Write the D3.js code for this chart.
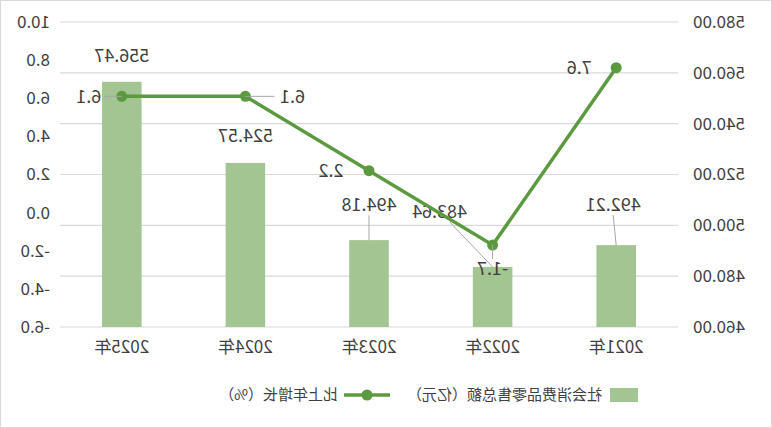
<!DOCTYPE html><html><head><meta charset="utf-8"><script src="https://cdn.jsdelivr.net/npm/d3@7"></script>
<style>body{margin:0;background:#fff}text{font-family:"Noto Sans CJK SC","DejaVu Sans",sans-serif;fill:#404040}</style></head><body>
<svg id="c" width="772" height="428"></svg>
<script>
const years=["2021年","2022年","2023年","2024年","2025年"];
const sales=[492.21,483.64,494.18,524.57,556.47];
const growth=[7.6,-1.7,2.2,6.1,6.1];
const salesTicks=[460,480,500,520,540,560,580];
const growthTicks=[-6,-4,-2,0,2,4,6,8,10];
const svg=d3.select("#c");
svg.append("rect").attr("x",0.5).attr("y",0.5).attr("width",771).attr("height",427).attr("fill","none").attr("stroke","#d9d9d9");
const g=svg.append("g").attr("transform","translate(772,0) scale(-1,1)");
const x=d3.scaleBand().domain(years).range([94,712]).paddingInner(0.68).paddingOuter(0.34);
const yS=d3.scaleLinear().domain([460,580]).range([327,22]);
const yG=d3.scaleLinear().domain([-6,10]).range([327,22]);
const hy=s=>s.replace("−","-");
g.selectAll(".grid").data(salesTicks).join("line").attr("x1",94).attr("x2",712).attr("y1",d=>yS(d)).attr("y2",d=>yS(d)).attr("stroke","#d9d9d9").attr("stroke-width",1.2);
const gl=g.append("g").attr("transform","translate(82,0)").call(d3.axisLeft(yS).tickValues(salesTicks).tickFormat(d3.format(".2f")).tickSize(0));
const gr=g.append("g").attr("transform","translate(722,0)").call(d3.axisRight(yG).tickValues(growthTicks).tickFormat(d=>hy(d3.format(".1f")(d))).tickSize(0).tickPadding(0));
const gx=g.append("g").attr("transform","translate(0,327)").call(d3.axisBottom(x).tickSize(0).tickPadding(14));
[gl,gr,gx].forEach(a=>{a.select(".domain").remove();a.selectAll("text").style("font-size","17px").style("fill","#404040");});
g.selectAll(".bar").data(sales).join("rect").attr("x",(d,i)=>x(years[i])).attr("width",x.bandwidth()).attr("y",d=>yS(d)).attr("height",d=>327-yS(d)).attr("fill","#a2c591");
const cx=i=>x(years[i])+x.bandwidth()/2;
const bOff=[[3,-40],[53,-55],[0,-35],[0,-27],[0,-26]];
sales.forEach((d,i)=>{
  const lx=cx(i)+bOff[i][0], ly=yS(d)+bOff[i][1];
  if(bOff[i][1]<-30) g.append("line").attr("x1",cx(i)).attr("y1",yS(d)).attr("x2",lx-(bOff[i][0]>10?10:0)).attr("y2",ly+10).attr("stroke","#a6a6a6");
  g.append("text").attr("x",lx).attr("y",ly).attr("text-anchor","middle").attr("dy","0.35em").style("font-size","18px").text(d.toFixed(2));
});
const line=d3.line().x((d,i)=>cx(i)).y(d=>yG(d));
g.append("path").datum(growth).attr("d",line).attr("fill","none").attr("stroke","#5b9a3e").attr("stroke-width",3.5);
g.selectAll(".pt").data(growth).join("circle").attr("cx",(d,i)=>cx(i)).attr("cy",d=>yG(d)).attr("r",5.5).attr("fill","#5b9a3e");
const gOff=[[37,0],[0,24],[38,0],[-47,0],[33,0]];
growth.forEach((d,i)=>{
  const lx=cx(i)+gOff[i][0], ly=yG(d)+gOff[i][1];
  if(i===3) g.append("line").attr("x1",cx(i)).attr("y1",yG(d)).attr("x2",lx+18).attr("y2",ly).attr("stroke","#a6a6a6");
  if(i===4) g.append("line").attr("x1",cx(i)).attr("y1",yG(d)).attr("x2",lx-15).attr("y2",ly).attr("stroke","#a6a6a6");
  if(i===1) g.append("line").attr("x1",cx(i)).attr("y1",yG(d)).attr("x2",lx).attr("y2",ly-10).attr("stroke","#a6a6a6");
  g.append("text").attr("x",lx).attr("y",ly).attr("text-anchor","middle").attr("dy","0.35em").style("font-size","18px").text(hy(d.toFixed(1)));
});
const ly=395;
g.append("rect").attr("x",134).attr("y",ly-7).attr("width",28).attr("height",14).attr("fill","#a2c591");
g.append("text").attr("x",170).attr("y",ly).attr("dy","0.35em").style("font-size","15px").text("社会消费品零售总额（亿元）");
g.append("line").attr("x1",382).attr("x2",428).attr("y1",ly).attr("y2",ly).attr("stroke","#5b9a3e").attr("stroke-width",3.5);
g.append("circle").attr("cx",405).attr("cy",ly).attr("r",5.5).attr("fill","#5b9a3e");
g.append("text").attr("x",434).attr("y",ly).attr("dy","0.35em").style("font-size","15px").text("比上年增长（%）");
</script></body></html>
